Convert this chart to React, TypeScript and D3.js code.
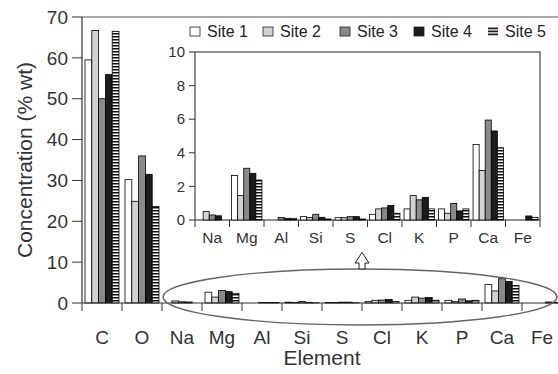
import { useEffect, useRef } from 'react';
import * as d3 from 'd3';

const W = 558;
const H = 374;

const elements = ['C', 'O', 'Na', 'Mg', 'Al', 'Si', 'S', 'Cl', 'K', 'P', 'Ca', 'Fe'];
const insetElements = ['Na', 'Mg', 'Al', 'Si', 'S', 'Cl', 'K', 'P', 'Ca', 'Fe'];
const sites = ['Site 1', 'Site 2', 'Site 3', 'Site 4', 'Site 5'];

// concentration (% wt) per element, one array per site
const site1 = [59.5, 30.2, 0, 2.65, 0, 0.2, 0.14, 0.34, 0.66, 0.66, 4.5, 0];
const site2 = [66.7, 24.9, 0.5, 1.45, 0, 0.14, 0.14, 0.66, 1.45, 0.4, 2.95, 0];
const site3 = [50.0, 36.0, 0.3, 3.08, 0.15, 0.34, 0.2, 0.72, 1.2, 0.98, 5.95, 0];
const site4 = [55.9, 31.5, 0.25, 2.78, 0.1, 0.16, 0.2, 0.86, 1.35, 0.54, 5.3, 0.24];
const site5 = [66.5, 23.6, 0, 2.38, 0.1, 0.06, 0.06, 0.4, 0.66, 0.66, 4.3, 0.16];

const mainTicks = [0, 10, 20, 30, 40, 50, 60, 70];
const insetTicks = [0, 2, 4, 6, 8, 10];

const fills = ['#ffffff', '#d2d2d2', '#8a8a8a', '#1c1c1c', 'url(#stripes)'];
const FONT = 'Liberation Sans';

const App = () => {
  const ref = useRef<SVGSVGElement>(null);

  useEffect(() => {
    const svg = d3.select(ref.current);
    svg.selectAll('*').remove();

    const defs = svg.append('defs');
    const pat = defs
      .append('pattern')
      .attr('id', 'stripes')
      .attr('patternUnits', 'userSpaceOnUse')
      .attr('width', 6)
      .attr('height', 3);
    pat.append('rect').attr('width', 6).attr('height', 3).attr('fill', '#fff');
    pat.append('rect').attr('y', 0).attr('width', 6).attr('height', 1.5).attr('fill', '#111');

    const rows = elements.map((el, i) => ({
      el,
      vals: [site1[i], site2[i], site3[i], site4[i], site5[i]],
    }));

    const root = svg.append('g').attr('font-family', FONT);

    // ---- main chart
    const x = d3.scaleBand().domain(elements).range([82, 562]);
    const y = d3.scaleLinear().domain([0, 70]).range([303, 17]);
    const xs = d3
      .scaleBand()
      .domain(sites)
      .range([x.bandwidth() * 0.075, x.bandwidth() * 0.925]);

    const main = root.append('g');

    const groups = main
      .selectAll('g.grp')
      .data(rows)
      .join('g')
      .attr('class', 'grp')
      .attr('transform', (d) => `translate(${x(d.el)},0)`);
    groups
      .selectAll('rect')
      .data((d) => d.vals.map((v, k) => ({ v, k })))
      .join('rect')
      .filter((d) => d.v > 0)
      .attr('x', (d) => xs(sites[d.k]) as number)
      .attr('width', xs.bandwidth())
      .attr('y', (d) => y(d.v))
      .attr('height', (d) => y(0) - y(d.v))
      .attr('fill', (d) => fills[d.k])
      .attr('stroke', '#000')
      .attr('stroke-width', 0.8);

    // frame lines
    main
      .append('line')
      .attr('x1', 82)
      .attr('x2', 562)
      .attr('y1', 17)
      .attr('y2', 17)
      .attr('stroke', '#555')
      .attr('stroke-width', 1.2);
    main
      .append('line')
      .attr('x1', 82)
      .attr('x2', 82)
      .attr('y1', 17)
      .attr('y2', 303)
      .attr('stroke', '#333')
      .attr('stroke-width', 1.2);
    main
      .append('line')
      .attr('x1', 82)
      .attr('x2', 562)
      .attr('y1', 303)
      .attr('y2', 303)
      .attr('stroke', '#333')
      .attr('stroke-width', 1.2);

    // y ticks
    main
      .selectAll('line.yt')
      .data(mainTicks)
      .join('line')
      .attr('class', 'yt')
      .attr('x1', 72)
      .attr('x2', 82)
      .attr('y1', (d) => y(d))
      .attr('y2', (d) => y(d))
      .attr('stroke', '#333');
    main
      .selectAll('text.yl')
      .data(mainTicks)
      .join('text')
      .attr('class', 'yl')
      .attr('x', 68)
      .attr('y', (d) => y(d))
      .attr('dy', '0.35em')
      .attr('text-anchor', 'end')
      .attr('font-size', 19)
      .attr('fill', '#333')
      .text((d) => d);

    // x ticks at band edges
    const edges = elements.map((e) => x(e) as number);
    main
      .selectAll('line.xt')
      .data(edges)
      .join('line')
      .attr('class', 'xt')
      .attr('x1', (d) => d)
      .attr('x2', (d) => d)
      .attr('y1', 303)
      .attr('y2', 311)
      .attr('stroke', '#333');
    main
      .selectAll('text.xl')
      .data(elements)
      .join('text')
      .attr('class', 'xl')
      .attr('x', (d) => (x(d) as number) + x.bandwidth() / 2)
      .attr('y', 344)
      .attr('text-anchor', 'middle')
      .attr('font-size', 19)
      .attr('fill', '#333')
      .text((d) => d);

    main
      .append('text')
      .attr('x', 322)
      .attr('y', 365)
      .attr('text-anchor', 'middle')
      .attr('font-size', 21)
      .attr('fill', '#333')
      .text('Element');
    main
      .append('text')
      .attr('transform', 'translate(32,160) rotate(-90)')
      .attr('text-anchor', 'middle')
      .attr('font-size', 21)
      .attr('fill', '#333')
      .text('Concentration (% wt)');

    // ellipse + arrow
    main
      .append('ellipse')
      .attr('cx', 360)
      .attr('cy', 297)
      .attr('rx', 197)
      .attr('ry', 28)
      .attr('fill', 'none')
      .attr('stroke', '#666')
      .attr('stroke-width', 1.4);
    const ax = 362;
    main
      .append('path')
      .attr(
        'd',
        `M${ax},252.5 L${ax + 7},263 L${ax + 3},263 L${ax + 3},269 L${ax - 3},269 L${ax - 3},263 L${ax - 7},263 Z`
      )
      .attr('fill', '#fff')
      .attr('stroke', '#222')
      .attr('stroke-width', 1);

    // ---- legend
    const lx = [190, 263, 340, 414, 488];
    const leg = main
      .selectAll('g.leg')
      .data(sites)
      .join('g')
      .attr('class', 'leg')
      .attr('transform', (_d, i) => `translate(${lx[i]},27)`);
    leg
      .filter((_d, i) => i < 4)
      .append('rect')
      .attr('width', 10)
      .attr('height', 9)
      .attr('fill', (_d, i) => fills[i])
      .attr('stroke', '#222')
      .attr('stroke-width', 0.8);
    leg
      .filter((_d, i) => i === 4)
      .selectAll('rect')
      .data([0, 3, 6])
      .join('rect')
      .attr('y', (d) => d + 0.5)
      .attr('width', 10)
      .attr('height', 1.8)
      .attr('fill', '#222');
    leg
      .append('text')
      .attr('x', 17)
      .attr('y', 10)
      .attr('font-size', 16)
      .attr('fill', '#222')
      .text((d) => d);

    // ---- inset
    const ix = d3.scaleBand().domain(insetElements).range([195, 540]);
    const iy = d3.scaleLinear().domain([0, 10]).range([220, 52]);
    const ixs = d3
      .scaleBand()
      .domain(sites)
      .range([ix.bandwidth() * 0.06, ix.bandwidth() * 0.94]);
    const inset = root.append('g');
    inset
      .append('rect')
      .attr('x', 195)
      .attr('y', 52)
      .attr('width', 345)
      .attr('height', 168)
      .attr('fill', '#fff')
      .attr('stroke', '#333')
      .attr('stroke-width', 1.1);

    const igroups = inset
      .selectAll('g.igrp')
      .data(rows.filter((r) => insetElements.includes(r.el)))
      .join('g')
      .attr('class', 'igrp')
      .attr('transform', (d) => `translate(${ix(d.el)},0)`);
    igroups
      .selectAll('rect')
      .data((d) => d.vals.map((v, k) => ({ v, k })))
      .join('rect')
      .filter((d) => d.v > 0)
      .attr('x', (d) => ixs(sites[d.k]) as number)
      .attr('width', ixs.bandwidth())
      .attr('y', (d) => iy(d.v))
      .attr('height', (d) => iy(0) - iy(d.v))
      .attr('fill', (d) => fills[d.k])
      .attr('stroke', '#000')
      .attr('stroke-width', 0.8);

    inset
      .selectAll('line.iyt')
      .data(insetTicks)
      .join('line')
      .attr('class', 'iyt')
      .attr('x1', 189)
      .attr('x2', 195)
      .attr('y1', (d) => iy(d))
      .attr('y2', (d) => iy(d))
      .attr('stroke', '#333');
    inset
      .selectAll('text.iyl')
      .data(insetTicks)
      .join('text')
      .attr('class', 'iyl')
      .attr('x', 185)
      .attr('y', (d) => iy(d))
      .attr('dy', '0.35em')
      .attr('text-anchor', 'end')
      .attr('font-size', 15)
      .attr('fill', '#333')
      .text((d) => d);
    const iedges = insetElements.map((e) => ix(e) as number).concat([540]);
    inset
      .selectAll('line.ixt')
      .data(iedges)
      .join('line')
      .attr('class', 'ixt')
      .attr('x1', (d) => d)
      .attr('x2', (d) => d)
      .attr('y1', 220)
      .attr('y2', 227)
      .attr('stroke', '#333');
    inset
      .selectAll('text.ixl')
      .data(insetElements)
      .join('text')
      .attr('class', 'ixl')
      .attr('x', (d) => (ix(d) as number) + ix.bandwidth() / 2)
      .attr('y', 243)
      .attr('text-anchor', 'middle')
      .attr('font-size', 15.5)
      .attr('fill', '#333')
      .text((d) => d);
  }, []);

  return (
    <svg
      ref={ref}
      width={W}
      height={H}
      style={{ position: 'absolute', left: 0, top: 0, background: '#fff' }}
    />
  );
};

export default App;
